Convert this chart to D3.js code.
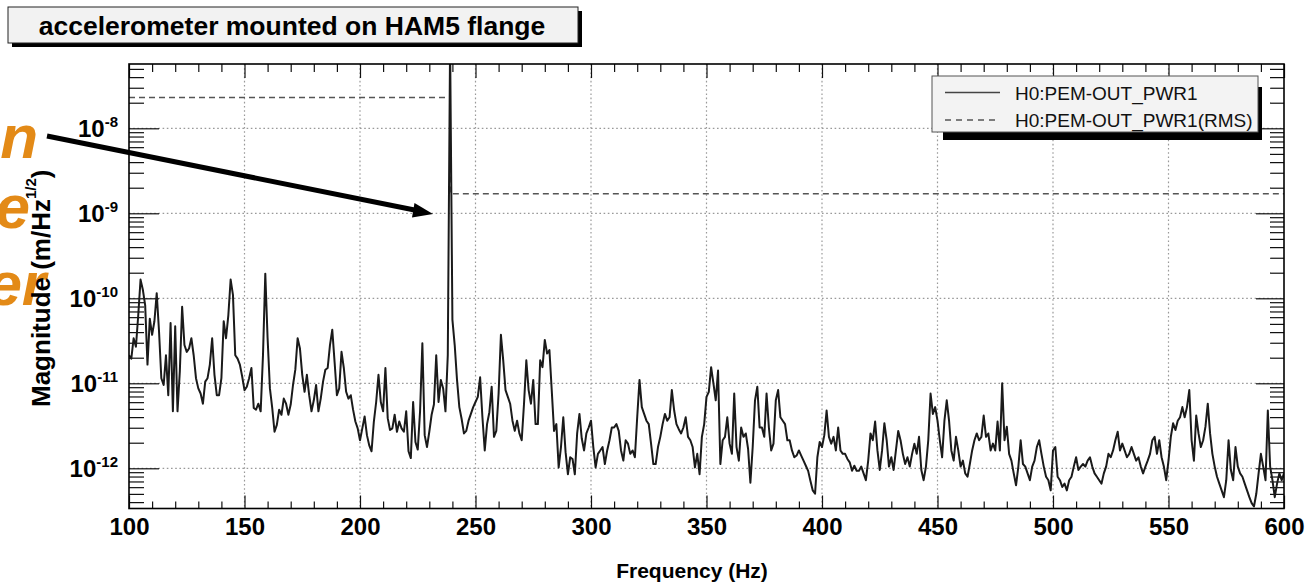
<!DOCTYPE html>
<meta charset="utf-8">
<style>
body { margin: 0; background: #fff; }
svg { display: block; font-family: "Liberation Sans", Arial, Helvetica, sans-serif; }
.tick-label { font-weight: bold; font-size: 24px; }
.grid line { stroke: #999; stroke-width: 1.2; stroke-dasharray: 1.6,2.6; }
</style>
<svg width="1308" height="585"></svg>
<script src="https://d3js.org/d3.v7.min.js"></script>
<script>

// Spectrum magnitude, log10 of m/Hz^(1/2), one value per Hz
var magLog100 = [ // 100 .. 241 Hz
  -10.67,-10.71,-10.47,-10.57,-10.20,-9.78,-9.90,-10.08,-10.78,-10.24,
  -10.43,-10.27,-9.94,-10.39,-10.94,-11.02,-10.67,-11.14,-10.29,-11.33,
  -10.33,-11.33,-10.86,-10.10,-10.55,-10.63,-10.59,-10.47,-10.67,-10.94,
  -11.06,-11.12,-11.24,-10.98,-10.94,-10.78,-10.47,-10.90,-11.14,-11.14,
  -10.94,-10.27,-10.47,-10.20,-9.78,-9.96,-10.67,-10.71,-10.78,-10.92,
  -11.08,-11.04,-10.94,-10.82,-11.29,-11.31,-11.24,-11.33,-10.67,-9.71,
  -10.47,-11.06,-11.29,-11.57,-11.49,-11.31,-11.37,-11.18,-11.24,-11.37,
  -11.25,-11.02,-10.84,-10.47,-10.59,-10.90,-11.10,-10.90,-11.14,-11.33,
  -11.20,-11.02,-11.33,-11.18,-10.98,-10.84,-10.82,-10.55,-10.37,-10.75,
  -11.14,-11.06,-10.63,-10.82,-11.10,-11.18,-11.14,-11.31,-11.45,-11.53,
  -11.67,-11.53,-11.39,-11.61,-11.73,-11.80,-11.45,-11.22,-10.90,-11.22,
  -11.33,-10.82,-11.41,-11.55,-11.53,-11.37,-11.57,-11.45,-11.53,-11.57,
  -11.33,-11.80,-11.88,-11.22,-11.69,-11.78,-11.33,-10.53,-11.61,-11.75,
  -11.57,-11.37,-11.25,-10.67,-11.22,-10.96,-11.06,-11.33,-10.67,-7.00,
  -10.25,-10.55
];
var magLog242 = [ // 242 .. 416 Hz
  -10.96,-11.28,-11.42,-11.59,-11.56,-11.44,-11.36,-11.28,-11.22,-11.16,
  -10.93,-11.40,-11.79,-11.48,-11.34,-11.04,-11.63,-11.56,-11.12,-10.43,
  -10.73,-11.08,-11.16,-11.24,-11.44,-11.56,-11.44,-11.59,-11.67,-11.24,
  -10.73,-11.08,-11.24,-10.96,-11.48,-11.48,-10.73,-10.81,-10.49,-10.65,
  -10.61,-11.08,-11.56,-11.48,-11.99,-11.75,-11.40,-11.81,-12.07,-11.87,
  -11.89,-12.07,-11.59,-11.36,-11.65,-11.79,-11.59,-11.52,-11.44,-11.75,
  -11.99,-11.83,-11.79,-11.75,-11.95,-11.79,-11.67,-11.52,-11.52,-11.48,
  -11.56,-11.79,-11.91,-11.67,-11.71,-11.83,-11.79,-11.87,-11.40,-10.96,
  -11.28,-11.36,-11.44,-11.48,-11.71,-11.95,-11.95,-11.75,-11.63,-11.48,
  -11.36,-11.44,-11.40,-11.08,-11.32,-11.48,-11.54,-11.59,-11.52,-11.40,
  -11.63,-11.67,-11.75,-11.99,-11.83,-12.07,-11.63,-11.48,-11.16,-11.10,
  -10.81,-11.00,-11.20,-10.85,-11.95,-11.67,-11.63,-11.40,-11.71,-11.83,
  -11.12,-11.75,-11.91,-11.52,-11.63,-11.59,-11.77,-12.17,-11.75,-11.20,
  -11.04,-11.52,-11.52,-11.63,-11.12,-11.52,-11.79,-11.71,-11.20,-11.08,
  -11.40,-11.44,-11.48,-11.67,-11.67,-11.79,-11.87,-11.85,-11.79,-11.85,
  -11.91,-11.97,-12.03,-12.15,-12.26,-12.30,-11.87,-11.69,-11.75,-11.61,
  -11.32,-11.63,-11.71,-11.63,-11.79,-11.52,-11.79,-11.83,-11.83,-11.89,
  -11.93,-12.03,-11.97,-12.03,-12.03
];
var magLog417 = [ // 417 .. 600 Hz
  -11.98,-12.06,-12.14,-11.91,-11.59,-11.67,-11.45,-11.79,-12.02,-11.79,
  -11.47,-11.67,-11.98,-11.87,-12.02,-11.79,-11.56,-11.67,-11.83,-11.95,
  -11.87,-11.98,-11.83,-11.71,-11.83,-11.63,-12.02,-12.14,-11.98,-11.67,
  -11.12,-11.36,-11.28,-11.44,-11.67,-11.87,-11.44,-11.20,-11.44,-11.79,
  -11.91,-11.63,-11.79,-11.98,-11.91,-12.06,-12.10,-11.95,-11.79,-11.67,
  -11.59,-11.67,-11.63,-11.38,-11.63,-11.59,-11.79,-11.71,-11.79,-11.45,
  -11.79,-11.00,-11.67,-11.51,-11.83,-11.91,-12.06,-12.20,-11.98,-11.67,
  -11.95,-11.98,-12.06,-12.14,-11.98,-11.91,-11.75,-11.67,-11.83,-11.98,
  -12.10,-12.14,-12.26,-11.79,-11.75,-12.10,-12.14,-12.22,-12.18,-12.26,
  -12.14,-12.10,-11.98,-11.87,-12.02,-11.98,-11.95,-11.98,-11.91,-11.87,
  -11.98,-12.06,-12.10,-12.14,-12.18,-12.06,-11.98,-11.83,-11.87,-11.79,
  -11.67,-11.57,-11.79,-11.71,-11.79,-11.87,-11.83,-11.75,-11.83,-11.91,
  -11.87,-11.98,-12.06,-11.98,-11.91,-11.83,-11.67,-11.63,-11.83,-11.67,
  -11.87,-11.98,-12.14,-11.91,-11.63,-11.47,-11.55,-11.44,-11.40,-11.28,
  -11.40,-11.28,-11.08,-11.67,-11.91,-11.38,-11.59,-11.75,-11.67,-11.51,
  -11.24,-11.59,-11.83,-11.98,-12.10,-12.18,-12.26,-12.34,-12.14,-11.67,
  -12.02,-12.14,-11.75,-11.98,-12.06,-12.10,-12.18,-12.26,-12.34,-12.41,
  -12.45,-12.30,-12.06,-11.83,-11.98,-12.14,-11.32,-11.98,-12.14,-12.34,
  -12.18,-12.06,-12.14,-12.06
];

// RMS curve (dashed), steps at the 239 Hz line
var rmsFreq = [100, 239, 600];
var rmsMag  = [2.3e-8, 1.7e-9, 1.7e-9];

var xTicks = [100, 150, 200, 250, 300, 350, 400, 450, 500, 550, 600];
var yTickExp = [-12, -11, -10, -9, -8];
var legendLabels = ["H0:PEM-OUT_PWR1", "H0:PEM-OUT_PWR1(RMS)"];
var titleText = "accelerometer mounted on HAM5 flange";
var slideWords = ["n", "e", "er"];

var svg = d3.select("svg");

var plotL = 129, plotR = 1284, plotT = 64, plotB = 508.5;

var x = d3.scaleLinear().domain([100, 600]).range([plotL, plotR]);
var y = d3.scaleLog()
    .domain([Math.pow(10, -12.473), Math.pow(10, -7.2435)])
    .range([plotB, plotT]);

var magLog = magLog100.concat(magLog242, magLog417);
var spectrum = magLog.map(function(v, i) { return { f: 100 + i, m: Math.pow(10, v) }; });
var rms = rmsFreq.map(function(f, i) { return { f: f, m: rmsMag[i] }; });

// Title box
svg.append("rect").attr("x", 12).attr("y", 11).attr("width", 570).attr("height", 36).attr("fill", "#000");
svg.append("rect").attr("x", 8).attr("y", 7).attr("width", 570).attr("height", 36)
    .attr("fill", "#f2f2f2").attr("stroke", "#222").attr("stroke-width", 1);
svg.append("text").attr("x", 292).attr("y", 34.5)
    .attr("text-anchor", "middle").attr("font-weight", "bold").attr("font-size", 26.5)
    .text(titleText);

// Grid
var grid = svg.append("g").attr("class", "grid");
grid.selectAll(".gx").data(xTicks.slice(1, -1)).enter().append("line")
    .attr("x1", x).attr("x2", x).attr("y1", plotT).attr("y2", plotB);
grid.selectAll(".gy").data(yTickExp).enter().append("line")
    .attr("x1", plotL).attr("x2", plotR)
    .attr("y1", function(d) { return y(Math.pow(10, d)); })
    .attr("y2", function(d) { return y(Math.pow(10, d)); });

// Axes ticks (inward, on all four sides)
var xMinor = d3.range(100, 601, 10).filter(function(d) { return d % 50; });
var yMinor = [];
for (var k = -13; k <= -8; k++) for (var m = 2; m <= 9; m++) {
  var v = m * Math.pow(10, k);
  if (v > y.domain()[0] && v < y.domain()[1]) yMinor.push(v);
}
var yMajor = yTickExp.map(function(d) { return Math.pow(10, d); });

function ticks(axis, tx, ty) {
  var g = svg.append("g").attr("transform", "translate(" + tx + "," + ty + ")").call(axis);
  g.select(".domain").remove();
  g.selectAll("line").attr("stroke", "#111").attr("stroke-width", 1.2);
  return g;
}
ticks(d3.axisBottom(x).tickValues(xMinor).tickSize(-7).tickFormat(""), 0, plotB);
ticks(d3.axisTop(x).tickValues(xMinor).tickSize(-8).tickFormat(""), 0, plotT);
ticks(d3.axisTop(x).tickValues(xTicks).tickSize(-14).tickFormat(""), 0, plotT);
var gx = ticks(d3.axisBottom(x).tickValues(xTicks).tickSizeInner(-13).tickSizeOuter(0).tickPadding(9.5), 0, plotB);
gx.selectAll("text").attr("class", "tick-label").attr("fill", "#000");

ticks(d3.axisLeft(y).tickValues(yMinor).tickSize(-15).tickFormat(""), plotL, 0);
ticks(d3.axisLeft(y).tickValues(yMajor).tickSize(-30).tickFormat(""), plotL, 0);
ticks(d3.axisRight(y).tickValues(yMinor).tickSize(-14).tickFormat(""), plotR, 0);
ticks(d3.axisRight(y).tickValues(yMajor).tickSize(-28).tickFormat(""), plotR, 0);

// Y tick labels 10^n
var yl = svg.append("g").selectAll("text").data(yTickExp).enter().append("text")
    .attr("class", "tick-label")
    .attr("text-anchor", "end")
    .attr("x", 118)
    .attr("y", function(d) { return y(Math.pow(10, d)) + 8.5; });
yl.append("tspan").text("10");
yl.append("tspan").attr("dy", -10).attr("font-size", 15).text(function(d) { return d; });

// Clip + traces
svg.append("clipPath").attr("id", "plot")
  .append("rect").attr("x", plotL).attr("y", plotT).attr("width", plotR - plotL).attr("height", plotB - plotT);

var line = d3.line().x(function(d) { return x(d.f); }).y(function(d) { return y(d.m); });

svg.append("path").datum(rms)
    .attr("clip-path", "url(#plot)")
    .attr("fill", "none").attr("stroke", "#555").attr("stroke-width", 1.6)
    .attr("stroke-dasharray", "6,4")
    .attr("d", line.curve(d3.curveStepAfter));

svg.append("path").datum(spectrum)
    .attr("clip-path", "url(#plot)")
    .attr("fill", "none").attr("stroke", "#1a1a1a").attr("stroke-width", 2)
    .attr("stroke-linejoin", "round")
    .attr("d", line.curve(d3.curveLinear));

// Frame
svg.append("rect").attr("x", plotL).attr("y", plotT).attr("width", plotR - plotL).attr("height", plotB - plotT)
    .attr("fill", "none").attr("stroke", "#000").attr("stroke-width", 1.6);

// Legend
var lg = svg.append("g");
lg.append("rect").attr("x", 943).attr("y", 132).attr("width", 319).attr("height", 8).attr("fill", "#000");
lg.append("rect").attr("x", 1258).attr("y", 87).attr("width", 4).attr("height", 53).attr("fill", "#000");
lg.append("rect").attr("x", 932).attr("y", 76).attr("width", 326).attr("height", 56)
    .attr("fill", "#f3f3f3").attr("stroke", "#555").attr("stroke-width", 1);
legendLabels.forEach(function(t, i) {
  var yy = 92.5 + i * 27.5;
  lg.append("line").attr("x1", 945).attr("x2", 1000).attr("y1", yy).attr("y2", yy)
    .attr("stroke", i ? "#555" : "#444").attr("stroke-width", 1.6)
    .attr("stroke-dasharray", i ? "6,5" : null);
  lg.append("text").attr("x", 1015).attr("y", yy + 7).attr("font-size", 19).attr("fill", "#111").text(t);
});

// Slide fragments (orange), behind the axis title
var words = svg.append("g").attr("font-weight", "bold").attr("font-style", "italic")
    .attr("font-size", 62).attr("fill", "#e38a17").attr("text-anchor", "end");
var wordPos = [[38, 158], [30, 228], [46, 305]];
slideWords.forEach(function(w, i) {
  words.append("text").attr("x", wordPos[i][0]).attr("y", wordPos[i][1]).text(w);
});

// Axis titles
svg.append("text").attr("x", 692).attr("y", 578).attr("text-anchor", "middle")
    .attr("font-weight", "bold").attr("font-size", 21).text("Frequency (Hz)");

var yt = svg.append("text").attr("transform", "translate(50,407) rotate(-90)")
    .attr("font-weight", "bold").attr("font-size", 26);
yt.append("tspan").text("Magnitude (m/Hz");
yt.append("tspan").attr("dy", -14).attr("font-size", 15).text("1/2");
yt.append("tspan").attr("dy", 14).text(")");

// Arrow
svg.append("line").attr("x1", 47).attr("y1", 136).attr("x2", 417).attr("y2", 210.5)
    .attr("stroke", "#000").attr("stroke-width", 5);
svg.append("path").attr("d", "M433,214 L414.5,203 L412,217.5 Z").attr("fill", "#000");

</script>
